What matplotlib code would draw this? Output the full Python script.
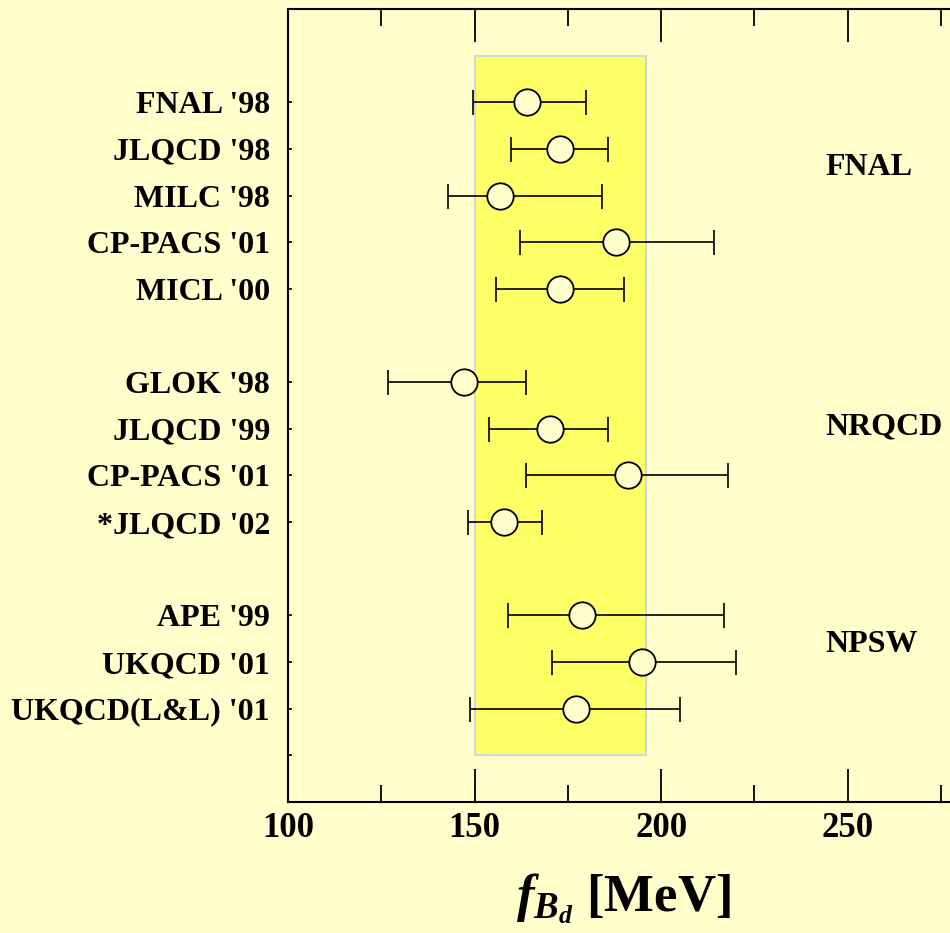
import matplotlib
matplotlib.use("Agg")
import matplotlib.pyplot as plt
from matplotlib.patches import Rectangle

plt.rcParams['font.family'] = ['Liberation Serif', 'DejaVu Serif']
plt.rcParams['font.weight'] = 'bold'
plt.rcParams['mathtext.fontset'] = 'custom'
plt.rcParams['mathtext.rm'] = 'Liberation Serif:bold'
plt.rcParams['mathtext.it'] = 'Liberation Serif:italic:bold'
plt.rcParams['mathtext.bf'] = 'Liberation Serif:bold'

# ---- data ----
labels = ["FNAL '98", "JLQCD '98", "MILC '98", "CP-PACS '01", "MICL '00",
          "GLOK '98", "JLQCD '99", "CP-PACS '01", "*JLQCD '02",
          "APE '99", "UKQCD '01", "UKQCD(L&L) '01"]
rows = [15, 14, 13, 12, 11, 9, 8, 7, 6, 4, 3, 2]
centers = [164.0, 172.9, 156.8, 188.0, 172.9,
           147.1, 170.2, 191.1, 157.9,
           178.7, 194.9, 177.2]
lows = [149.7, 159.9, 142.8, 162.1, 155.7,
        126.7, 154.0, 163.7, 148.3,
        158.9, 170.8, 148.8]
highs = [179.8, 185.8, 184.2, 214.2, 190.0,
         163.7, 185.8, 217.9, 168.0,
         216.9, 220.1, 205.1]
groups = ["FNAL", "NRQCD", "NPSW"]
group_y = [13.6, 8.05, 3.37]
band_lo, band_hi = 150.0, 196.0
band_rows = (1, 16)
xticks_major = [100, 150, 200, 250]
xticks_minor = [125, 175, 225, 275]

bg = '#ffffcc'
fig = plt.figure(figsize=(9.5, 9.33), dpi=100, facecolor=bg)
W, H = 950, 933
left_px, right_px, top_px, bot_px = 288, 959.6, 9, 802
ax = fig.add_axes([left_px / W, 1 - bot_px / H, (right_px - left_px) / W, (bot_px - top_px) / H])
ax.set_facecolor(bg)
ax.set_xlim(100, 280)
ax.set_ylim(0, 17)

ax.add_patch(Rectangle((band_lo, band_rows[0]), band_hi - band_lo, band_rows[1] - band_rows[0],
                       facecolor='#ffff66', edgecolor='#d6d6d6', linewidth=1.5, zorder=1))

xerr_lo = [c - l for c, l in zip(centers, lows)]
xerr_hi = [h - c for c, h in zip(centers, highs)]
ax.errorbar(centers, rows, xerr=[xerr_lo, xerr_hi], fmt='none', ecolor='black',
            elinewidth=1.2, capsize=9, capthick=1.2, zorder=3)
ax.plot(centers, rows, 'o', markersize=19, markerfacecolor=bg, markeredgecolor='black',
        markeredgewidth=1.3, linestyle='none', zorder=4)

for g, gy in zip(groups, group_y):
    ax.text(244.0, gy, g, fontsize=23, fontweight='bold', ha='left', va='center')

ax.set_yticks(rows + [1])
ax.set_yticklabels(labels + [""], fontsize=23, fontweight='bold')
ax.tick_params(axis='y', direction='in', length=3, width=1.2, pad=13, left=True, right=False)

ax.set_xticks(xticks_major)
ax.set_xticklabels([str(v) for v in xticks_major], fontsize=25, fontweight='bold')
ax.set_xticks(xticks_minor, minor=True)
ax.tick_params(axis='x', which='major', direction='in', length=24, width=1.3, pad=7,
               top=True, bottom=True)
ax.tick_params(axis='x', which='minor', direction='in', length=12, width=1.3,
               top=True, bottom=True)

for s in ['left', 'top', 'bottom', 'right']:
    ax.spines[s].set_linewidth(1.5)

ax.set_xlabel(r'$f_{B_d}$ [MeV]', fontsize=38, fontweight='bold', labelpad=19)

fig.savefig('out.png', dpi=100, facecolor=bg)
